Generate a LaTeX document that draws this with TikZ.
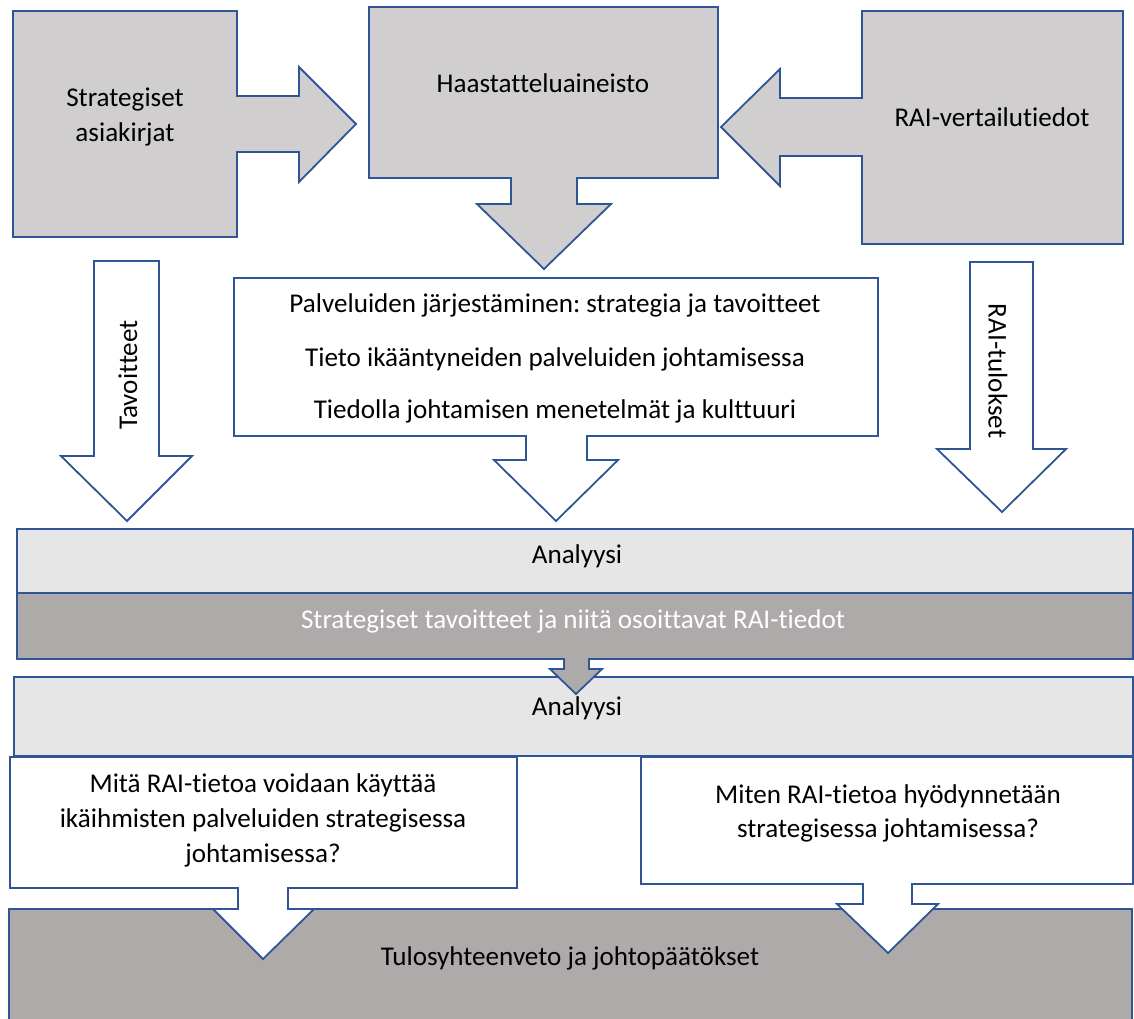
\documentclass[tikz,border=0pt]{standalone}
\usepackage{fontspec}
\setmainfont{Carlito}[Ligatures=NoCommon]
\frenchspacing
\definecolor{lineblue}{HTML}{2F5597}
\definecolor{callgray}{HTML}{D0CECE}
\definecolor{bandlight}{HTML}{E7E6E6}
\definecolor{banddark}{HTML}{AEAAAA}
\tikzset{
  shp/.style={draw=lineblue, line width=1.8pt, line join=miter},
  lbl/.style={font=\fontsize{27.1}{32}\selectfont, inner sep=0pt, anchor=base, text=black},
  rlbl/.style={font=\fontsize{27.1}{32}\selectfont, inner sep=0pt, anchor=center, text=black},
}
\begin{document}
\begin{tikzpicture}[x=1pt,y=-1pt]
\useasboundingbox (0,0) rectangle (1134,1018);
\clip (0,0) rectangle (1134,1018);

% top callouts
\path[shp, fill=callgray] (13,11) -- (237,11) -- (237,96) -- (299,96) -- (299,67) -- (356,124)
  -- (299,182) -- (299,152) -- (237,152) -- (237,237) -- (13,237) -- cycle;
\path[shp, fill=callgray] (369,7) -- (718,7) -- (718,178) -- (577,178) -- (577,204) -- (611,204)
  -- (544,269) -- (477,204) -- (511,204) -- (511,178) -- (369,178) -- cycle;
\path[shp, fill=callgray] (862,11) -- (1123,11) -- (1123,244) -- (862,244) -- (862,156) -- (780,156)
  -- (780,186) -- (721,127) -- (780,69) -- (780,98) -- (862,98) -- cycle;

\node[lbl] (sa1) at (125,106) {Strategiset};
\node[lbl] (sa2) at (125,141) {asiakirjat};
\node[lbl] (haas) at (543,92) {Haastatteluaineisto};
\node[lbl] (raiv) at (992,126) {RAI-vertailutiedot};

% side arrows
\path[shp, fill=white] (94,261) -- (159,261) -- (159,456) -- (192,456) -- (127,521) -- (61,456)
  -- (94,456) -- cycle;
\node[rlbl, rotate=90] (tav) at (128,375) {Tavoitteet};
\path[shp, fill=white] (970,262) -- (1033,262) -- (1033,449) -- (1066,449) -- (1002,512)
  -- (937,449) -- (970,449) -- cycle;
\node[rlbl, rotate=-90] (raitul) at (998,371) {RAI-tulokset};

% middle white callout
\path[shp, fill=white] (234,278) -- (878,278) -- (878,436) -- (587,436) -- (587,460) -- (618,460)
  -- (556,521) -- (494,460) -- (526,460) -- (526,436) -- (234,436) -- cycle;
\node[lbl] (pal1) at (555,312) {Palveluiden järjestäminen: strategia ja tavoitteet};
\node[lbl] (pal2) at (555,366) {Tieto ikääntyneiden palveluiden johtamisessa};
\node[lbl] (pal3) at (555,418) {Tiedolla johtamisen menetelmät ja kulttuuri};

% bands
\path[shp, fill=bandlight] (14,677) rectangle (1133,756);
\node[lbl] (an2) at (577,715) {Analyysi};
\path[shp, fill=bandlight] (17,529) rectangle (1133,593);
\node[lbl] (an1) at (577,563) {Analyysi};
\path[shp, fill=banddark] (17,593) -- (1133,593) -- (1133,659) -- (589,659) -- (589,669) -- (602,669)
  -- (576,694) -- (550,669) -- (564,669) -- (564,659) -- (17,659) -- cycle;
\node[lbl, text=white] (stt) at (573,628) {Strategiset tavoitteet ja niitä osoittavat RAI-tiedot};

% bottom band
\path[shp, fill=banddark] (9,909) rectangle (1132,1030);
\node[lbl] (tulos) at (570,965) {Tulosyhteenveto ja johtopäätökset};

% bottom callouts
\path[shp, fill=white] (10,757) -- (517,757) -- (517,888) -- (288,888) -- (288,909) -- (314,909)
  -- (263,959) -- (213,909) -- (238,909) -- (238,888) -- (10,888) -- cycle;
\node[lbl] (mita1) at (263,792) {Mitä RAI-tietoa voidaan käyttää};
\node[lbl] (mita2) at (263,827) {ikäihmisten palveluiden strategisessa};
\node[lbl] (mita3) at (263,862) {johtamisessa?};
\path[shp, fill=white] (641,757) -- (1133,757) -- (1133,884) -- (912,884) -- (912,904) -- (938,904)
  -- (888,953) -- (837,904) -- (863,904) -- (863,884) -- (641,884) -- cycle;
\node[lbl] (mit1) at (888,803) {Miten RAI-tietoa hyödynnetään};
\node[lbl] (mit2) at (888,837) {strategisessa johtamisessa?};
\end{tikzpicture}
\end{document}
